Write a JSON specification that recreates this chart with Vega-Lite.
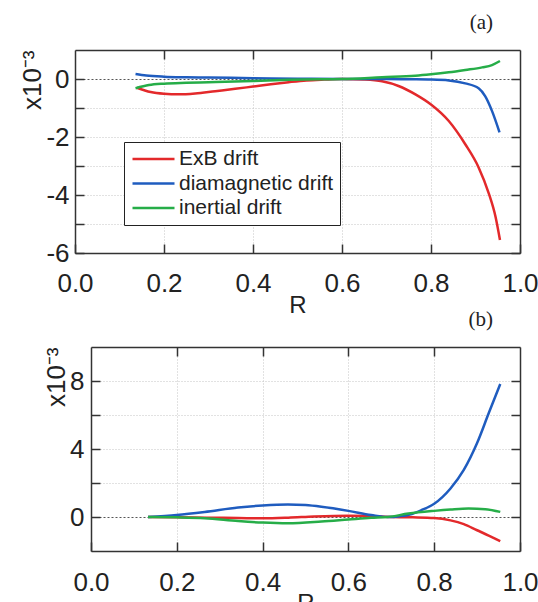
{
  "$schema": "https://vega.github.io/schema/vega-lite/v6.json",
  "padding": {"left": 19, "top": 12, "right": 0, "bottom": 0},
  "bounds": "flush",
  "spacing": 94,
  "config": {
    "font": "Liberation Sans",
    "view": {"stroke": null},
    "axis": {
      "labelFont": "Liberation Sans",
      "titleFont": "Liberation Sans",
      "labelColor": "#222",
      "titleColor": "#222",
      "labelFontSize": 26,
      "titleFontWeight": "normal",
      "domainColor": "#333",
      "domainWidth": 1.5,
      "tickColor": "#333",
      "tickWidth": 1.5,
      "tickSize": -9,
      "labelOverlap": false,
      "labelFlush": false,
      "gridDash": [1, 2],
      "gridColor": "#c4c4c4"
    },
    "legend": {
      "labelFont": "Liberation Sans",
      "labelFontSize": 21,
      "labelColor": "#222",
      "strokeColor": "#222",
      "fillColor": "white",
      "padding": 6.5,
      "symbolType": "M-3.5,0H3.5",
      "symbolSize": 144,
      "symbolStrokeWidth": 2.5,
      "symbolOffset": 12.5,
      "labelOffset": 15,
      "rowPadding": 2.5
    },
    "title": {"font": "Liberation Serif", "fontSize": 21, "fontWeight": "normal", "color": "#222"}
  },
  "datasets": {
    "a": [
      {"series": "ExB drift", "R": 0.139, "v": -0.30},
      {"series": "ExB drift", "R": 0.17, "v": -0.45},
      {"series": "ExB drift", "R": 0.2, "v": -0.51},
      {"series": "ExB drift", "R": 0.233, "v": -0.53},
      {"series": "ExB drift", "R": 0.27, "v": -0.50},
      {"series": "ExB drift", "R": 0.315, "v": -0.42},
      {"series": "ExB drift", "R": 0.36, "v": -0.34},
      {"series": "ExB drift", "R": 0.4, "v": -0.26},
      {"series": "ExB drift", "R": 0.44, "v": -0.18},
      {"series": "ExB drift", "R": 0.48, "v": -0.11},
      {"series": "ExB drift", "R": 0.52, "v": -0.05},
      {"series": "ExB drift", "R": 0.56, "v": -0.02},
      {"series": "ExB drift", "R": 0.6, "v": 0},
      {"series": "ExB drift", "R": 0.65, "v": -0.02},
      {"series": "ExB drift", "R": 0.69, "v": -0.08},
      {"series": "ExB drift", "R": 0.727, "v": -0.24},
      {"series": "ExB drift", "R": 0.765, "v": -0.53},
      {"series": "ExB drift", "R": 0.8, "v": -0.88},
      {"series": "ExB drift", "R": 0.84, "v": -1.45},
      {"series": "ExB drift", "R": 0.877, "v": -2.25},
      {"series": "ExB drift", "R": 0.907, "v": -3.05},
      {"series": "ExB drift", "R": 0.93, "v": -3.95},
      {"series": "ExB drift", "R": 0.945, "v": -4.75},
      {"series": "ExB drift", "R": 0.955, "v": -5.55},
      {"series": "diamagnetic drift", "R": 0.136, "v": 0.17},
      {"series": "diamagnetic drift", "R": 0.16, "v": 0.12},
      {"series": "diamagnetic drift", "R": 0.2, "v": 0.08},
      {"series": "diamagnetic drift", "R": 0.25, "v": 0.06},
      {"series": "diamagnetic drift", "R": 0.3, "v": 0.05},
      {"series": "diamagnetic drift", "R": 0.4, "v": 0.03},
      {"series": "diamagnetic drift", "R": 0.5, "v": 0.01},
      {"series": "diamagnetic drift", "R": 0.6, "v": 0},
      {"series": "diamagnetic drift", "R": 0.7, "v": 0},
      {"series": "diamagnetic drift", "R": 0.75, "v": -0.01},
      {"series": "diamagnetic drift", "R": 0.8, "v": -0.02},
      {"series": "diamagnetic drift", "R": 0.84, "v": -0.05},
      {"series": "diamagnetic drift", "R": 0.877, "v": -0.15},
      {"series": "diamagnetic drift", "R": 0.907, "v": -0.32},
      {"series": "diamagnetic drift", "R": 0.922, "v": -0.6},
      {"series": "diamagnetic drift", "R": 0.937, "v": -1.1},
      {"series": "diamagnetic drift", "R": 0.954, "v": -1.84},
      {"series": "inertial drift", "R": 0.136, "v": -0.32},
      {"series": "inertial drift", "R": 0.166, "v": -0.21},
      {"series": "inertial drift", "R": 0.2, "v": -0.16},
      {"series": "inertial drift", "R": 0.25, "v": -0.13},
      {"series": "inertial drift", "R": 0.3, "v": -0.11},
      {"series": "inertial drift", "R": 0.4, "v": -0.07},
      {"series": "inertial drift", "R": 0.48, "v": -0.03},
      {"series": "inertial drift", "R": 0.55, "v": -0.01},
      {"series": "inertial drift", "R": 0.6, "v": 0},
      {"series": "inertial drift", "R": 0.69, "v": 0.06},
      {"series": "inertial drift", "R": 0.765, "v": 0.11},
      {"series": "inertial drift", "R": 0.8, "v": 0.16},
      {"series": "inertial drift", "R": 0.84, "v": 0.23},
      {"series": "inertial drift", "R": 0.877, "v": 0.31},
      {"series": "inertial drift", "R": 0.915, "v": 0.40},
      {"series": "inertial drift", "R": 0.937, "v": 0.48},
      {"series": "inertial drift", "R": 0.955, "v": 0.62}
    ],
    "b": [
      {"series": "ExB drift", "R": 0.133, "v": 0},
      {"series": "ExB drift", "R": 0.2, "v": -0.01},
      {"series": "ExB drift", "R": 0.27, "v": -0.04},
      {"series": "ExB drift", "R": 0.343, "v": -0.06},
      {"series": "ExB drift", "R": 0.4, "v": -0.08},
      {"series": "ExB drift", "R": 0.46, "v": -0.04},
      {"series": "ExB drift", "R": 0.52, "v": 0.03},
      {"series": "ExB drift", "R": 0.6, "v": 0.08},
      {"series": "ExB drift", "R": 0.65, "v": 0.06},
      {"series": "ExB drift", "R": 0.702, "v": 0},
      {"series": "ExB drift", "R": 0.75, "v": -0.02},
      {"series": "ExB drift", "R": 0.8, "v": -0.06},
      {"series": "ExB drift", "R": 0.838, "v": -0.2},
      {"series": "ExB drift", "R": 0.869, "v": -0.42},
      {"series": "ExB drift", "R": 0.9, "v": -0.78},
      {"series": "ExB drift", "R": 0.927, "v": -1.09},
      {"series": "ExB drift", "R": 0.954, "v": -1.42},
      {"series": "diamagnetic drift", "R": 0.133, "v": 0},
      {"series": "diamagnetic drift", "R": 0.2, "v": 0.12},
      {"series": "diamagnetic drift", "R": 0.265, "v": 0.30},
      {"series": "diamagnetic drift", "R": 0.343, "v": 0.56},
      {"series": "diamagnetic drift", "R": 0.4, "v": 0.68},
      {"series": "diamagnetic drift", "R": 0.459, "v": 0.74},
      {"series": "diamagnetic drift", "R": 0.5, "v": 0.70},
      {"series": "diamagnetic drift", "R": 0.537, "v": 0.6},
      {"series": "diamagnetic drift", "R": 0.6, "v": 0.36},
      {"series": "diamagnetic drift", "R": 0.653, "v": 0.12},
      {"series": "diamagnetic drift", "R": 0.692, "v": 0},
      {"series": "diamagnetic drift", "R": 0.72, "v": 0.05},
      {"series": "diamagnetic drift", "R": 0.748, "v": 0.18},
      {"series": "diamagnetic drift", "R": 0.77, "v": 0.4},
      {"series": "diamagnetic drift", "R": 0.8, "v": 0.78},
      {"series": "diamagnetic drift", "R": 0.838, "v": 1.68},
      {"series": "diamagnetic drift", "R": 0.869, "v": 2.77},
      {"series": "diamagnetic drift", "R": 0.9, "v": 4.35},
      {"series": "diamagnetic drift", "R": 0.927, "v": 6.1},
      {"series": "diamagnetic drift", "R": 0.954, "v": 7.82},
      {"series": "inertial drift", "R": 0.133, "v": 0},
      {"series": "inertial drift", "R": 0.2, "v": -0.02},
      {"series": "inertial drift", "R": 0.265, "v": -0.07},
      {"series": "inertial drift", "R": 0.343, "v": -0.24},
      {"series": "inertial drift", "R": 0.4, "v": -0.33},
      {"series": "inertial drift", "R": 0.459, "v": -0.37},
      {"series": "inertial drift", "R": 0.537, "v": -0.27},
      {"series": "inertial drift", "R": 0.6, "v": -0.15},
      {"series": "inertial drift", "R": 0.653, "v": -0.05},
      {"series": "inertial drift", "R": 0.692, "v": 0},
      {"series": "inertial drift", "R": 0.74, "v": 0.2},
      {"series": "inertial drift", "R": 0.8, "v": 0.36},
      {"series": "inertial drift", "R": 0.838, "v": 0.44},
      {"series": "inertial drift", "R": 0.88, "v": 0.5},
      {"series": "inertial drift", "R": 0.919, "v": 0.46},
      {"series": "inertial drift", "R": 0.954, "v": 0.3}
    ]
  },
  "vconcat": [
    {
      "title": {"text": "(a)", "anchor": "end", "frame": "group", "dx": -27, "offset": 16},
      "width": 445,
      "height": 203,
      "data": {"name": "a"},
      "layer": [
        {
          "mark": {"type": "line", "strokeWidth": 2.5, "interpolate": "monotone"},
          "encoding": {
            "x": {
              "field": "R", "type": "quantitative",
              "scale": {"domain": [0, 1], "nice": false, "zero": false},
              "axis": {"orient": "bottom", "values": [0, 0.2, 0.4, 0.6, 0.8, 1], "format": ".1f", "labelPadding": 26, "title": "R", "titleFontSize": 24, "titlePadding": -3, "grid": true}
            },
            "y": {
              "field": "v", "type": "quantitative",
              "scale": {"domain": [-6, 1], "nice": false, "zero": false},
              "axis": {
                "orient": "left", "values": [-6, -5, -4, -3, -2, -1, 0],
                "labelExpr": "datum.value % 2 === 0 ? replace(datum.label, '−', '-') : ''",
                "labelPadding": 15, "title": "x10⁻³", "titleFontSize": 26, "titleAnchor": "end", "titlePadding": 0,
                "grid": true,
                "gridColor": {"condition": {"test": "datum.value === 0", "value": "#555"}, "value": "#c4c4c4"},
                "gridDash": {"condition": {"test": "datum.value === 0", "value": [2, 2]}, "value": [1, 2]}
              }
            },
            "color": {
              "field": "series", "type": "nominal",
              "scale": {"domain": ["ExB drift", "diamagnetic drift", "inertial drift"], "range": ["#e3292b", "#1f5cbf", "#26ad48"]},
              "legend": {"orient": "none", "legendX": 49, "legendY": 92, "title": null}
            }
          }
        },
        {
          "mark": {"type": "point", "opacity": 0},
          "encoding": {
            "x": {"field": "R", "type": "quantitative", "axis": {"orient": "top", "values": [0.2, 0.4, 0.6, 0.8], "labels": false, "title": null, "grid": false}},
            "y": {"field": "v", "type": "quantitative", "axis": {"orient": "right", "values": [-6, -5, -4, -3, -2, -1, 0], "labels": false, "title": null, "grid": false}}
          }
        }
      ],
      "resolve": {"axis": {"x": "independent", "y": "independent"}}
    },
    {
      "title": {"text": "(b)", "anchor": "end", "frame": "group", "dx": -27, "offset": 16},
      "width": 445,
      "height": 204,
      "data": {"name": "b"},
      "layer": [
        {
          "mark": {"type": "line", "strokeWidth": 2.5, "interpolate": "monotone"},
          "encoding": {
            "x": {
              "field": "R", "type": "quantitative",
              "scale": {"domain": [0, 1], "nice": false, "zero": false, "range": [16, 445]},
              "axis": {"orient": "bottom", "values": [0, 0.2, 0.4, 0.6, 0.8, 1], "format": ".1f", "labelPadding": 27, "title": "R", "titleFontSize": 24, "titlePadding": -4, "grid": true}
            },
            "y": {
              "field": "v", "type": "quantitative",
              "scale": {"domain": [-2, 10], "nice": false, "zero": false},
              "axis": {
                "orient": "left", "offset": -16, "values": [0, 2, 4, 6, 8],
                "labelExpr": "datum.value % 4 === 0 ? datum.label : ''",
                "labelPadding": 16, "title": "x10⁻³", "titleFontSize": 26, "titleAnchor": "end", "titlePadding": 0,
                "grid": true,
                "gridColor": {"condition": {"test": "datum.value === 0", "value": "#555"}, "value": "#c4c4c4"},
                "gridDash": {"condition": {"test": "datum.value === 0", "value": [2, 2]}, "value": [1, 2]}
              }
            },
            "color": {
              "field": "series", "type": "nominal",
              "scale": {"domain": ["ExB drift", "diamagnetic drift", "inertial drift"], "range": ["#e3292b", "#1f5cbf", "#26ad48"]},
              "legend": {"orient": "none", "legendX": 55, "legendY": 20, "title": null}
            }
          }
        },
        {
          "mark": {"type": "point", "opacity": 0},
          "encoding": {
            "x": {"field": "R", "type": "quantitative", "axis": {"orient": "top", "values": [0.2, 0.4, 0.6, 0.8], "labels": false, "title": null, "grid": false}},
            "y": {"field": "v", "type": "quantitative", "axis": {"orient": "right", "values": [0, 2, 4, 6, 8], "labels": false, "title": null, "grid": false}}
          }
        }
      ],
      "resolve": {"axis": {"x": "independent", "y": "independent"}}
    }
  ]
}
